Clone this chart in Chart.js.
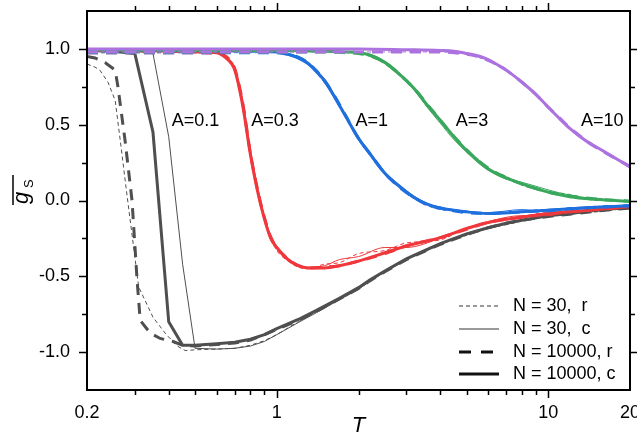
<!DOCTYPE html>
<html>
<head>
<meta charset="utf-8">
<script src="https://cdn.jsdelivr.net/npm/chart.js@4.4.0/dist/chart.umd.min.js"></script>
<style>
  html, body { margin: 0; padding: 0; background: #fff; }
  #wrap { position: relative; width: 637px; height: 434px; }
</style>
</head>
<body>
<div id="wrap"><canvas id="gsChart"></canvas></div>
<script>
// Axis ticks
const xTickValues = [0.2, 1, 10, 20];
const xMinorValues = [0.3, 0.4, 0.5, 0.6, 0.7, 0.8, 0.9, 2, 3, 4, 5, 6, 7, 8, 9];
const xMajorValues = [1, 10];
const yTickValues = [-1, -0.5, 0, 0.5, 1];
const yMinorValues = [-0.75, -0.25, 0.25, 0.75];

// Curve labels
const curveLabels = ['A=0.1', 'A=0.3', 'A=1', 'A=3', 'A=10'];
const curveLabelT = [0.41, 0.806, 1.95, 4.56, 13.2];
const curveLabelG = [0.525, 0.525, 0.525, 0.525, 0.525];

// Legend
const legendLabels = ['N = 30,  r', 'N = 30,  c', 'N = 10000, r', 'N = 10000, c'];

// A = 0.1 (grey)
const tA01_c1e4 = [0.2, 0.25, 0.3, 0.35, 0.4, 0.45, 0.5, 0.6, 0.7, 0.8, 0.9, 1.0, 1.2, 1.4, 1.7, 2, 2.2, 2.5, 3, 3.5, 4, 5, 6, 7, 8, 10, 12, 15, 20];
const gA01_c1e4 = [0.99, 0.985, 0.97, 0.45, -0.80, -0.955, -0.955, -0.945, -0.935, -0.915, -0.885, -0.845, -0.785, -0.725, -0.645, -0.575, -0.525, -0.465, -0.385, -0.33, -0.285, -0.22, -0.18, -0.15, -0.13, -0.10, -0.085, -0.065, -0.045];
const tA01_r1e4 = [0.2, 0.214, 0.233, 0.254, 0.26, 0.276, 0.293, 0.306, 0.314, 0.342, 0.372, 0.415, 0.45, 0.5, 0.6, 0.7, 0.8, 0.9, 1.0, 1.2, 1.4, 1.7, 2, 2.2, 2.5, 3, 3.5, 4, 5, 6, 7, 8, 10, 12, 15, 20];
const gA01_r1e4 = [0.95, 0.94, 0.91, 0.86, 0.75, 0.40, 0.0, -0.53, -0.79, -0.875, -0.91, -0.93, -0.955, -0.96, -0.95, -0.94, -0.92, -0.885, -0.85, -0.79, -0.73, -0.65, -0.58, -0.53, -0.47, -0.39, -0.335, -0.29, -0.225, -0.18, -0.15, -0.13, -0.105, -0.09, -0.07, -0.05];
const tA01_c30 = [0.2, 0.3, 0.35, 0.4, 0.45, 0.5, 0.6, 0.7, 0.8, 0.9, 1.0, 1.2, 1.4, 1.7, 2, 2.2, 2.5, 3, 3.5, 4, 5, 6, 7, 8, 10, 12, 15, 20];
const gA01_c30 = [0.99, 0.985, 0.97, 0.42, -0.42, -0.975, -0.98, -0.975, -0.96, -0.93, -0.885, -0.805, -0.74, -0.655, -0.585, -0.535, -0.47, -0.39, -0.335, -0.29, -0.225, -0.185, -0.155, -0.13, -0.10, -0.09, -0.07, -0.05];
const tA01_r30 = [0.2, 0.214, 0.223, 0.239, 0.254, 0.265, 0.281, 0.31, 0.35, 0.39, 0.43, 0.46, 0.5, 0.6, 0.7, 0.8, 0.9, 1.0, 1.2, 1.4, 1.7, 2, 2.2, 2.5, 3, 3.5, 4, 5, 6, 7, 8, 10, 12, 15, 20];
const gA01_r30 = [0.90, 0.88, 0.86, 0.78, 0.66, 0.40, 0.03, -0.57, -0.77, -0.88, -0.96, -0.99, -0.985, -0.98, -0.975, -0.955, -0.925, -0.885, -0.80, -0.735, -0.655, -0.585, -0.53, -0.475, -0.385, -0.34, -0.285, -0.23, -0.18, -0.16, -0.135, -0.10, -0.09, -0.075, -0.05];

// A = 0.3 (red)
const tA03 = [0.2, 0.4, 0.5, 0.6, 0.65, 0.7, 0.75, 0.8, 0.85, 0.9, 0.95, 1.0, 1.1, 1.2, 1.3, 1.5, 1.7, 2, 2.5, 3, 4, 5, 6, 8, 10, 12, 15, 20];
const gA03_c1e4 = [0.99, 0.985, 0.98, 0.975, 0.94, 0.86, 0.62, 0.30, 0.06, -0.12, -0.25, -0.31, -0.39, -0.43, -0.445, -0.445, -0.43, -0.40, -0.345, -0.30, -0.245, -0.185, -0.145, -0.11, -0.085, -0.075, -0.06, -0.04];
const gA03_r1e4 = [0.975, 0.975, 0.975, 0.97, 0.95, 0.87, 0.64, 0.31, 0.07, -0.11, -0.24, -0.31, -0.385, -0.43, -0.445, -0.44, -0.43, -0.40, -0.35, -0.30, -0.245, -0.19, -0.145, -0.11, -0.09, -0.075, -0.06, -0.04];
const gA03_c30 = [0.99, 0.985, 0.98, 0.975, 0.945, 0.88, 0.66, 0.34, 0.09, -0.10, -0.23, -0.30, -0.38, -0.425, -0.44, -0.43, -0.39, -0.37, -0.31, -0.31, -0.25, -0.19, -0.14, -0.10, -0.10, -0.06, -0.045, -0.03];
const gA03_r30 = [0.975, 0.975, 0.975, 0.97, 0.95, 0.87, 0.65, 0.33, 0.08, -0.11, -0.25, -0.33, -0.40, -0.44, -0.45, -0.42, -0.41, -0.35, -0.33, -0.28, -0.26, -0.18, -0.15, -0.105, -0.08, -0.08, -0.05, -0.045];

// A = 1 (blue)
const tA1 = [0.2, 0.5, 0.8, 1.0, 1.1, 1.2, 1.3, 1.4, 1.5, 1.6, 1.8, 2.0, 2.2, 2.5, 2.8, 3.2, 3.6, 4, 5, 6, 8, 10, 12, 15, 20];
const gA1_c1e4 = [0.995, 0.99, 0.985, 0.98, 0.965, 0.94, 0.905, 0.85, 0.79, 0.71, 0.55, 0.41, 0.31, 0.18, 0.10, 0.02, -0.025, -0.05, -0.075, -0.085, -0.075, -0.065, -0.055, -0.045, -0.035];
const gA1_r1e4 = [0.975, 0.975, 0.975, 0.975, 0.965, 0.945, 0.91, 0.855, 0.79, 0.715, 0.555, 0.41, 0.31, 0.18, 0.095, 0.02, -0.03, -0.05, -0.08, -0.085, -0.075, -0.065, -0.055, -0.045, -0.035];
const gA1_c30 = [0.995, 0.99, 0.985, 0.98, 0.97, 0.95, 0.915, 0.86, 0.80, 0.72, 0.56, 0.42, 0.32, 0.19, 0.11, 0.03, -0.02, -0.045, -0.07, -0.08, -0.06, -0.075, -0.05, -0.04, -0.03];
const gA1_r30 = [0.975, 0.975, 0.975, 0.975, 0.96, 0.935, 0.90, 0.84, 0.775, 0.70, 0.54, 0.40, 0.30, 0.17, 0.09, 0.015, -0.035, -0.06, -0.07, -0.09, -0.07, -0.06, -0.06, -0.04, -0.03];

// A = 3 (green)
const tA3 = [0.2, 0.5, 1, 1.5, 1.8, 2.0, 2.2, 2.5, 2.8, 3.2, 3.6, 4.0, 4.5, 5, 5.5, 6, 7, 8, 10, 12, 15, 20];
const gA3_c1e4 = [0.995, 0.99, 0.99, 0.985, 0.98, 0.975, 0.96, 0.91, 0.84, 0.74, 0.625, 0.53, 0.42, 0.33, 0.265, 0.21, 0.15, 0.11, 0.055, 0.025, 0.008, -0.005];
const gA3_r1e4 = [0.98, 0.98, 0.98, 0.98, 0.975, 0.97, 0.955, 0.91, 0.84, 0.74, 0.63, 0.53, 0.42, 0.335, 0.265, 0.215, 0.15, 0.11, 0.055, 0.03, 0.01, -0.005];
const gA3_c30 = [0.995, 0.99, 0.99, 0.985, 0.98, 0.975, 0.965, 0.92, 0.85, 0.73, 0.61, 0.51, 0.40, 0.32, 0.25, 0.20, 0.14, 0.12, 0.07, 0.035, 0.01, -0.01];
const gA3_r30 = [0.98, 0.98, 0.98, 0.98, 0.975, 0.97, 0.95, 0.90, 0.83, 0.73, 0.62, 0.52, 0.41, 0.32, 0.26, 0.21, 0.16, 0.10, 0.06, 0.04, 0.0, 0.0];

// A = 10 (purple)
const tA10 = [0.2, 1, 2, 3, 4, 4.5, 5, 5.5, 6, 6.5, 7, 8, 9, 10, 11, 12, 13, 14, 16, 18, 20];
const gA10_c1e4 = [1.0, 1.0, 1.0, 0.995, 0.99, 0.985, 0.97, 0.955, 0.93, 0.895, 0.86, 0.78, 0.70, 0.615, 0.54, 0.475, 0.425, 0.385, 0.325, 0.27, 0.225];
const gA10_r1e4 = [0.98, 0.98, 0.98, 0.98, 0.98, 0.975, 0.965, 0.95, 0.925, 0.895, 0.86, 0.78, 0.70, 0.615, 0.545, 0.48, 0.43, 0.385, 0.32, 0.27, 0.22];
const gA10_c30 = [1.0, 1.0, 1.0, 0.995, 0.99, 0.985, 0.975, 0.955, 0.935, 0.90, 0.865, 0.785, 0.70, 0.62, 0.54, 0.48, 0.425, 0.39, 0.33, 0.275, 0.23];
const gA10_r30 = [0.98, 0.98, 0.98, 0.98, 0.98, 0.975, 0.965, 0.945, 0.92, 0.89, 0.855, 0.775, 0.695, 0.61, 0.535, 0.475, 0.42, 0.38, 0.32, 0.265, 0.215];

const colors = {
    grey: '#4f4f4f',
    red: '#f0383c',
    blue: '#1f6fde',
    green: '#39a75c',
    purple: '#ac72e0'
};

const lineStyles = {
    c1e4: { width: 3, dash: [] },
    r1e4: { width: 3, dash: [11, 8] },
    c30: { width: 1, dash: [] },
    r30: { width: 1, dash: [4, 3] }
};

function toPoints(t, g) {
    return t.map((v, i) => ({ x: v, y: g[i] }));
}

function makeSet(color, t, g, kind, smooth) {
    return {
        data: toPoints(t, g),
        borderColor: color,
        backgroundColor: color,
        borderWidth: lineStyles[kind].width,
        borderDash: lineStyles[kind].dash,
        pointRadius: 0,
        fill: false,
        tension: 0,
        cubicInterpolationMode: smooth ? 'monotone' : 'default'
    };
}

// first dataset is drawn on top
const datasets = [
    makeSet(colors.purple, tA10, gA10_c1e4, 'c1e4', true),
    makeSet(colors.purple, tA10, gA10_r1e4, 'r1e4', true),
    makeSet(colors.purple, tA10, gA10_c30, 'c30', true),
    makeSet(colors.purple, tA10, gA10_r30, 'r30', true),
    makeSet(colors.green, tA3, gA3_c1e4, 'c1e4', true),
    makeSet(colors.green, tA3, gA3_r1e4, 'r1e4', true),
    makeSet(colors.green, tA3, gA3_c30, 'c30', true),
    makeSet(colors.green, tA3, gA3_r30, 'r30', true),
    makeSet(colors.blue, tA1, gA1_c1e4, 'c1e4', true),
    makeSet(colors.blue, tA1, gA1_r1e4, 'r1e4', true),
    makeSet(colors.blue, tA1, gA1_c30, 'c30', true),
    makeSet(colors.blue, tA1, gA1_r30, 'r30', true),
    makeSet(colors.red, tA03, gA03_c1e4, 'c1e4', true),
    makeSet(colors.red, tA03, gA03_r1e4, 'r1e4', true),
    makeSet(colors.red, tA03, gA03_c30, 'c30', true),
    makeSet(colors.red, tA03, gA03_r30, 'r30', true),
    makeSet(colors.grey, tA01_c1e4, gA01_c1e4, 'c1e4', false),
    makeSet(colors.grey, tA01_r1e4, gA01_r1e4, 'r1e4', false),
    makeSet(colors.grey, tA01_c30, gA01_c30, 'c30', false),
    makeSet(colors.grey, tA01_r30, gA01_r30, 'r30', false)
];

const FONT = "'Liberation Sans', Arial, sans-serif";

// Frame, outward ticks, titles, curve labels and legend
const decorations = {
    id: 'decorations',
    afterDraw(chart) {
        const { ctx, chartArea: a, scales: { x, y } } = chart;
        ctx.save();

        // frame
        ctx.strokeStyle = '#000';
        ctx.lineWidth = 2;
        ctx.strokeRect(a.left, a.top, a.right - a.left, a.bottom - a.top);

        // tick marks on all four sides
        ctx.lineWidth = 1.5;
        ctx.beginPath();
        const xTick = (v, len) => {
            const p = Math.round(x.getPixelForValue(v)) + 0.5;
            ctx.moveTo(p, a.bottom); ctx.lineTo(p, a.bottom + len);
            ctx.moveTo(p, a.top); ctx.lineTo(p, a.top - len);
        };
        const yTick = (v, len) => {
            const p = Math.round(y.getPixelForValue(v)) + 0.5;
            ctx.moveTo(a.left, p); ctx.lineTo(a.left - len, p);
            ctx.moveTo(a.right, p); ctx.lineTo(a.right + len, p);
        };
        xMajorValues.forEach(v => xTick(v, 8));
        xMinorValues.forEach(v => xTick(v, 5));
        yTickValues.forEach(v => yTick(v, 8));
        yMinorValues.forEach(v => yTick(v, 5));
        ctx.stroke();

        // curve labels
        ctx.fillStyle = '#000';
        ctx.font = '18px ' + FONT;
        ctx.textAlign = 'left';
        ctx.textBaseline = 'middle';
        curveLabels.forEach((txt, i) => {
            ctx.fillText(txt, x.getPixelForValue(curveLabelT[i]), y.getPixelForValue(curveLabelG[i]));
        });

        // x title
        ctx.font = 'italic 22px ' + FONT;
        ctx.textAlign = 'center';
        ctx.textBaseline = 'alphabetic';
        ctx.fillText('T', (a.left + a.right) / 2, 432);

        // y title: overlined g with subscript S
        ctx.save();
        ctx.translate(28, 205);
        ctx.rotate(-Math.PI / 2);
        ctx.textAlign = 'left';
        ctx.font = 'italic 22px ' + FONT;
        ctx.fillText('g', 1, 0);
        ctx.font = '13px ' + FONT;
        ctx.fillText('S', 17, 5);
        ctx.lineWidth = 1.5;
        ctx.beginPath();
        ctx.moveTo(0, -15);
        ctx.lineTo(30, -15);
        ctx.stroke();
        ctx.restore();

        // legend
        const rows = [306, 329, 352, 374];
        const styles = [
            { w: 1, dash: [4, 3], c: '#333' },
            { w: 1.5, dash: [], c: '#777' },
            { w: 3, dash: [12, 10], c: '#111' },
            { w: 3, dash: [], c: '#111' }
        ];
        ctx.font = '18px ' + FONT;
        ctx.textAlign = 'left';
        ctx.textBaseline = 'middle';
        rows.forEach((ry, i) => {
            ctx.strokeStyle = styles[i].c;
            ctx.lineWidth = styles[i].w;
            ctx.setLineDash(styles[i].dash);
            ctx.beginPath();
            ctx.moveTo(459, ry);
            ctx.lineTo(499, ry);
            ctx.stroke();
            ctx.setLineDash([]);
            ctx.fillStyle = '#000';
            ctx.fillText(legendLabels[i], 513, ry);
        });

        ctx.restore();
    }
};

Chart.defaults.font.family = FONT;
Chart.defaults.font.size = 18;
Chart.defaults.color = '#000';

new Chart(document.getElementById('gsChart'), {
    type: 'line',
    data: { datasets: datasets },
    options: {
        responsive: true,
        maintainAspectRatio: false,
        animation: false,
        layout: { padding: { left: 0, right: 7, top: 11, bottom: 0 } },
        plugins: {
            legend: { display: false },
            tooltip: { enabled: false }
        },
        scales: {
            x: {
                type: 'logarithmic',
                min: 0.2,
                max: 20,
                grid: { display: false, drawTicks: false },
                border: { display: false },
                ticks: {
                    padding: 12,
                    maxRotation: 0,
                    autoSkip: false,
                    callback: v => String(v)
                },
                afterBuildTicks: s => { s.ticks = xTickValues.map(v => ({ value: v })); },
                afterFit: s => { s.height = 44; s.paddingLeft = 0; s.paddingRight = 0; }
            },
            y: {
                type: 'linear',
                min: -1.25,
                max: 1.25,
                grid: { display: false, drawTicks: false },
                border: { display: false },
                ticks: {
                    padding: 17,
                    callback: v => v.toFixed(1)
                },
                afterBuildTicks: s => { s.ticks = yTickValues.map(v => ({ value: v })); },
                afterFit: s => { s.width = 87; s.paddingTop = 0; s.paddingBottom = 0; }
            }
        }
    },
    plugins: [decorations]
});
</script>
</body>
</html>
